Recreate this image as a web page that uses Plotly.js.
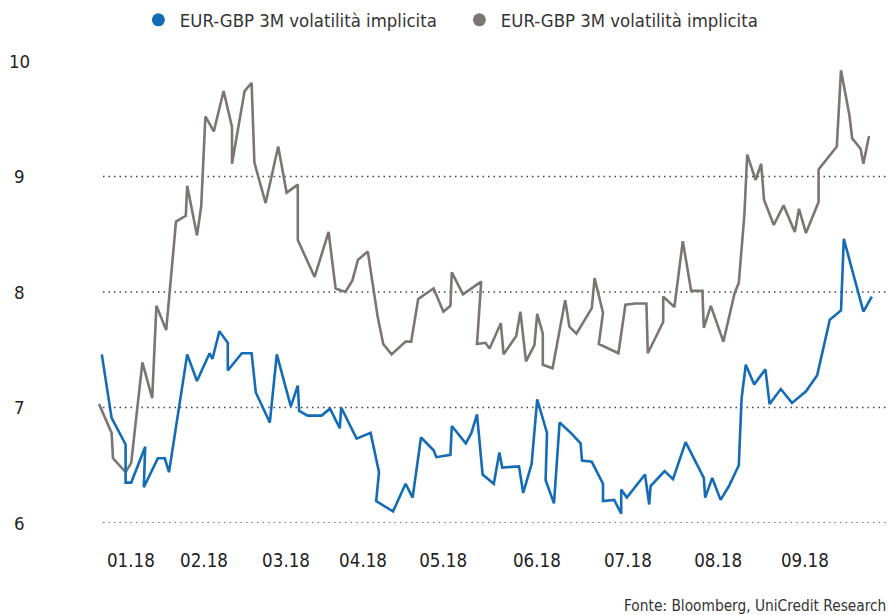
<!DOCTYPE html>
<html>
<head>
<meta charset="utf-8">
<script src="https://cdn.plot.ly/plotly-3.0.1.min.js"></script>
<style>html,body{margin:0;padding:0;background:#fff;}#chart{width:888px;height:615px;}</style>
</head>
<body>
<div id="chart"></div>
<script>
// Day offsets (days from start of the window) and values
const grayDay = [0,4.5,5,9.5,11.5,15.5,19,20.5,24,27.5,31,31.5,35,36.5,38,41,44.5,47.5,47.5,52,54.5,55.5,59.5,64,67,71,71,77,82,84.5,88,90.5,92.5,96,99.5,101.5,104.5,109.5,111.5,114,119.5,123,125.5,126,130,136.5,135,138,139.5,143.5,144.5,149,150.5,152.5,155.5,156.5,158.5,158.5,162,166.5,168,170.5,176,177,180,178.5,185.5,188,191.5,195.5,196,201.5,201.5,205.5,208.5,211.5,215.5,216,218.5,223,227,228.5,230.5,231.5,234.5,236.5,237.5,241,244.5,248.5,250,252.5,257,257,263.5,265,268,269,272,273,275];
const grayVal = [7.03,6.78,6.56,6.44,6.52,7.39,7.08,7.88,7.67,8.61,8.66,8.92,8.49,8.74,9.52,9.39,9.74,9.43,9.11,9.74,9.81,9.12,8.77,9.26,8.86,8.93,8.45,8.13,8.52,8.03,8.00,8.10,8.28,8.35,7.79,7.55,7.46,7.57,7.57,7.94,8.03,7.83,7.88,8.17,7.98,8.09,7.55,7.56,7.51,7.73,7.46,7.62,7.83,7.40,7.54,7.81,7.64,7.37,7.34,7.93,7.70,7.64,7.86,8.12,7.82,7.55,7.47,7.89,7.90,7.90,7.47,7.74,7.96,7.87,8.44,8.01,8.01,7.69,7.88,7.57,7.99,8.08,8.67,9.19,8.97,9.11,8.80,8.58,8.75,8.52,8.72,8.51,8.78,9.06,9.26,9.92,9.53,9.33,9.24,9.11,9.35];
const blueDay = [1,4.5,9.5,9.5,11.5,16.5,16,21,23.5,25,31.5,35,39.5,40.5,43,46,46,51,54.5,56,61,63.5,68.5,71,71.5,74.5,79.5,82.5,86,86.5,92,97,100,99,105,109.5,112,115,119.5,120.5,125.5,126,131,133,135,137,141,143,144,150,151.5,154.5,156.5,160,159.5,162.5,164.5,168.5,172,172.5,176,180,180,184,186.5,186.5,188.5,195,196.5,197,202,205,209.5,216,216.5,219,222,225,228.5,229.5,231,234,238,239.5,243.5,247.5,252.5,256.5,261,265,266,273,276];
const blueVal = [7.46,6.91,6.68,6.35,6.35,6.66,6.31,6.56,6.56,6.44,7.46,7.23,7.47,7.42,7.66,7.56,7.32,7.47,7.47,7.13,6.87,7.46,7.01,7.19,6.97,6.93,6.93,6.99,6.82,7.00,6.73,6.78,6.44,6.19,6.10,6.34,6.22,6.74,6.63,6.57,6.59,6.84,6.69,6.78,6.94,6.42,6.34,6.61,6.48,6.49,6.26,6.51,7.07,6.78,6.37,6.17,6.87,6.78,6.69,6.54,6.53,6.34,6.19,6.20,6.08,6.29,6.22,6.42,6.16,6.32,6.45,6.38,6.70,6.39,6.22,6.39,6.20,6.32,6.50,7.08,7.37,7.20,7.33,7.03,7.16,7.04,7.14,7.28,7.76,7.84,8.46,7.83,7.96];
const monthTickDay = [11.4,37.5,66.8,94.3,122.9,156.4,188.9,221.1,252.1];
const monthTickText = ['01.18','02.18','03.18','04.18','05.18','06.18','07.18','08.18','09.18'];
const yTicks = [6,7,8,9,10];
const gridLevels = [6,7,8,9];
const seriesNames = ['EUR-GBP 3M volatilità implicita','EUR-GBP 3M volatilità implicita'];
const sourceText = 'Fonte: Bloomberg, UniCredit Research';

const BLUE = '#146cb7', GRAY = '#7b7574';
const FONT = '"DejaVu Sans Condensed", "DejaVu Sans", sans-serif';

const traces = [
  {x: grayDay, y: grayVal, type: 'scatter', mode: 'lines', line: {color: GRAY, width: 2.6}, showlegend: false, hoverinfo: 'skip'},
  {x: blueDay, y: blueVal, type: 'scatter', mode: 'lines', line: {color: BLUE, width: 2.6}, showlegend: false, hoverinfo: 'skip'},
  {x: [null], y: [null], type: 'scatter', mode: 'markers', name: seriesNames[0], marker: {color: BLUE, size: 13}},
  {x: [null], y: [null], type: 'scatter', mode: 'markers', name: seriesNames[1], marker: {color: GRAY, size: 13}}
];

const shapes = gridLevels.map(v => ({
  type: 'line', xref: 'paper', x0: 0.0101, x1: 0.9975, yref: 'y', y0: v, y1: v,
  line: {color: '#444', width: 1.3, dash: '1.5px,4px'}, layer: 'below'
}));

// y-axis labels are centred in the reference, so draw them as annotations tied to the y scale
const yLabelAnnotations = yTicks.map(v => ({
  text: String(v), xref: 'paper', x: -0.0958, xanchor: 'center', yref: 'y', y: v, yanchor: 'middle',
  showarrow: false, font: {family: FONT, size: 18.5, color: '#222'}
}));

const layout = {
  width: 888, height: 615,
  margin: {l: 95, r: 0, t: 61, b: 92},
  paper_bgcolor: '#fff', plot_bgcolor: '#fff',
  font: {family: FONT, color: '#222', size: 18},
  xaxis: {range: [-1.4286, 281.786], showgrid: false, zeroline: false, showline: false,
          tickmode: 'array', tickvals: monthTickDay, ticktext: monthTickText, ticks: '',
          ticklabelstandoff: 24, tickfont: {family: FONT, size: 18.6, color: '#222'}},
  yaxis: {range: [6, 10], showgrid: false, zeroline: false, showline: false,
          tickmode: 'array', tickvals: yTicks, ticks: '', showticklabels: false},
  showlegend: true,
  legend: {orientation: 'h', x: 0.0528, xanchor: 'left', y: 1.089, yanchor: 'middle',
           font: {family: FONT, size: 18.4, color: '#333'}, itemwidth: 33,
           entrywidth: 273, entrywidthmode: 'pixels', bgcolor: 'rgba(0,0,0,0)'},
  shapes: shapes,
  annotations: yLabelAnnotations.concat([{text: sourceText, xref: 'paper', yref: 'paper', x: 1, xanchor: 'right', y: -0.1797, yanchor: 'middle',
                 showarrow: false, font: {family: FONT, size: 15.3, color: '#333'}}])
};

Plotly.newPlot('chart', traces, layout, {staticPlot: true, displayModeBar: false});
</script>
</body>
</html>
